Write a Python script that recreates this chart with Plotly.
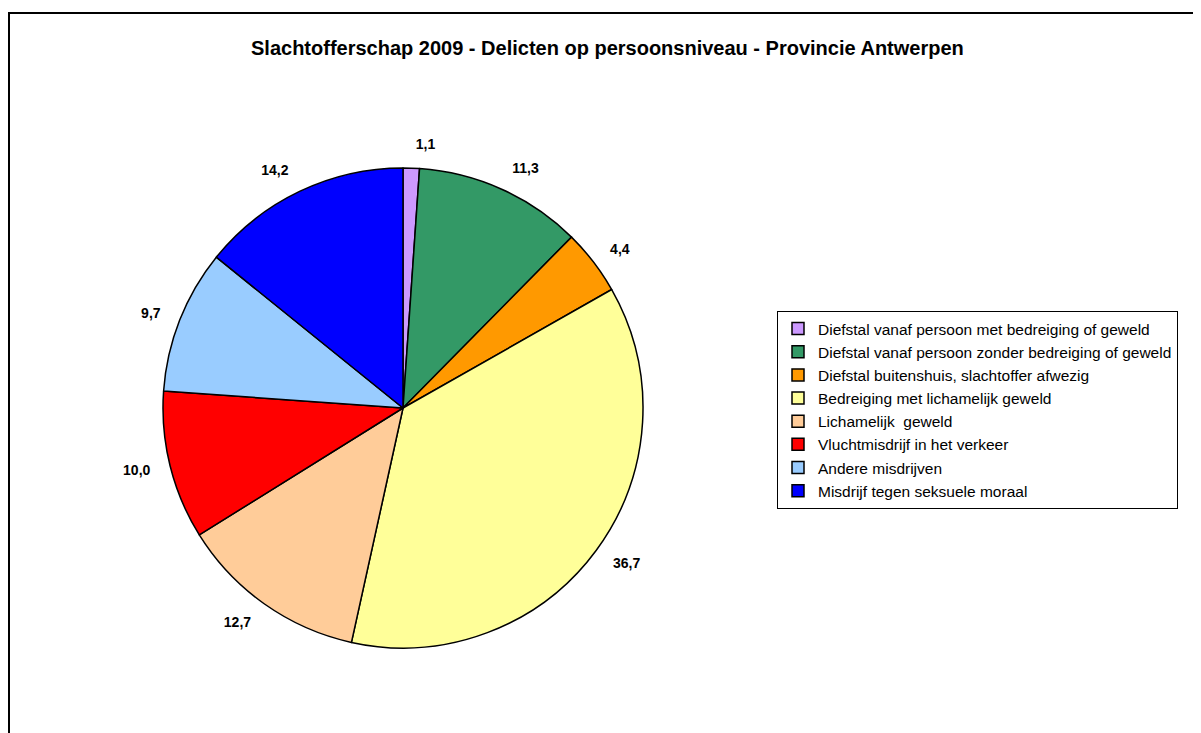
import plotly.graph_objects as go

categories = [
    "Diefstal vanaf persoon met bedreiging of geweld",
    "Diefstal vanaf persoon zonder bedreiging of geweld",
    "Diefstal buitenshuis, slachtoffer afwezig",
    "Bedreiging met lichamelijk geweld",
    "Lichamelijk  geweld",
    "Vluchtmisdrijf in het verkeer",
    "Andere misdrijven",
    "Misdrijf tegen seksuele moraal",
]
values = [1.1, 11.3, 4.4, 36.7, 12.7, 10.0, 9.7, 14.2]
colors = ["#CC99FF", "#339966", "#FF9900", "#FFFF99", "#FFCC99", "#FF0000", "#99CCFF", "#0000FF"]
title = "Slachtofferschap 2009 - Delicten op persoonsniveau - Provincie Antwerpen"

labels_txt = [f"{v:.1f}".replace(".", ",") for v in values]

W, H = 1201, 733
OFF = 8  # page body margin
FONT = "Liberation Sans, Arial, sans-serif"

def px_x(x):
    return (x - OFF) / W

def px_y(y):
    return 1 - (y - OFF) / H

CX, CY, R = 403, 408, 240
RL = 256

fig = go.Figure()
# main pie
fig.add_trace(go.Pie(
    labels=categories,
    values=values,
    textinfo="none",
    marker=dict(colors=colors, line=dict(color="black", width=1.5)),
    sort=False,
    direction="clockwise",
    rotation=0,
    domain=dict(x=[px_x(CX - R), px_x(CX + R)], y=[px_y(CY + R), px_y(CY - R)]),
    showlegend=True,
    hoverinfo="label+value",
))
# label ring (transparent pie) placing value labels a little further out
fig.add_trace(go.Pie(
    labels=categories,
    values=values,
    text=labels_txt,
    texttemplate="<b>%{text}</b>",
    textposition="outside",
    textfont=dict(family=FONT, size=14, color="black"),
    marker=dict(colors=["rgba(0,0,0,0)"] * len(values), line=dict(width=0)),
    sort=False,
    direction="clockwise",
    rotation=0,
    domain=dict(x=[px_x(CX - RL), px_x(CX + RL)], y=[px_y(CY + RL), px_y(CY - RL)]),
    showlegend=False,
    hoverinfo="skip",
))

fig.update_layout(
    width=W, height=H,
    margin=dict(l=0, r=0, t=0, b=0),
    paper_bgcolor="white",
    plot_bgcolor="white",
    font=dict(family=FONT, color="black"),
    legend=dict(
        x=px_x(777), y=px_y(311), xanchor="left", yanchor="top",
        bordercolor="black", borderwidth=1,
        font=dict(family=FONT, size=15.5, color="black"),
        itemwidth=30,
        tracegroupgap=0,
    ),
    annotations=[dict(
        text=f"<b>{title}</b>", x=px_x(607), y=px_y(48),
        xref="paper", yref="paper", showarrow=False,
        xanchor="center", yanchor="middle",
        font=dict(family=FONT, size=20, color="black"),
    )],
    shapes=[dict(
        type="rect", xref="paper", yref="paper",
        x0=1 / W, x1=1.05, y0=-0.1, y1=px_y(13),
        line=dict(color="black", width=2),
    )],
)

fig.write_html("out.html")
